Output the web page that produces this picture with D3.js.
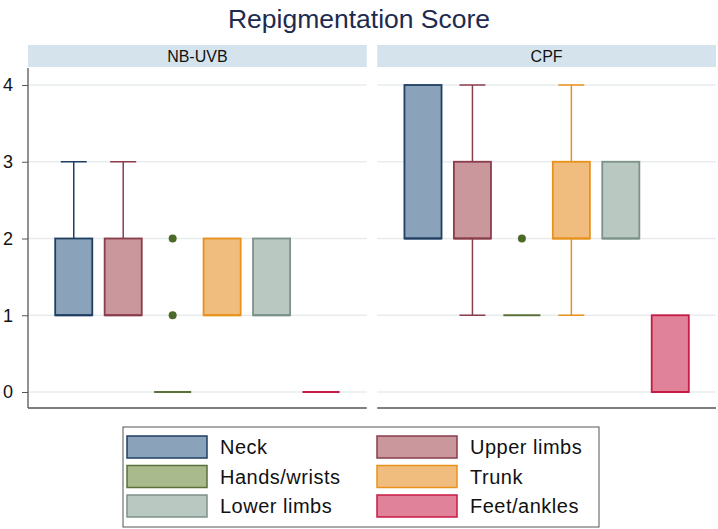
<!DOCTYPE html>
<html>
<head>
<meta charset="utf-8">
<script src="https://cdn.jsdelivr.net/npm/d3@7"></script>
<style>
  body { margin: 0; background: #fff; }
  svg { display: block; font-family: "Liberation Sans", Arial, sans-serif; }
</style>
</head>
<body>
<svg width="718" height="529"></svg>
<script>
// categories and values
var panels = ['NB-UVB', 'CPF'];
var regions = ['Neck', 'Upper limbs', 'Hands/wrists', 'Trunk', 'Lower limbs', 'Feet/ankles'];
var yTicks = [0, 1, 2, 3, 4];

// [min, q1, median, q3, max] per region
var nbuvbStats = [[1, 1, 1, 2, 3], [1, 1, 1, 2, 3], [0, 0, 0, 0, 0], [1, 1, 1, 2, 2], [1, 1, 1, 2, 2], [0, 0, 0, 0, 0]];
var nbuvbOutliers = [[], [], [1, 2], [], [], []];
var cpfStats = [[2, 2, 2, 4, 4], [1, 2, 2, 3, 4], [1, 1, 1, 1, 1], [1, 2, 2, 3, 4], [2, 2, 2, 3, 3], [0, 0, 0, 1, 1]];
var cpfOutliers = [[], [], [2], [], [], []];

var fills   = ['#8ba3ba', '#c9979c', '#a9bb8c', '#f1bd7f', '#b9c9c2', '#e0829a'];
var strokes = ['#1f3f63', '#8b3d4b', '#5b703b', '#e8921c', '#7c918a', '#c81a44'];
var dotColor = '#4b6a28';

var svg = d3.select('svg');

var statsByPanel = [nbuvbStats, cpfStats],
    outliersByPanel = [nbuvbOutliers, cpfOutliers];

var panelX = d3.scaleBand().domain(panels).range([28, 716]).paddingInner(0.03),
    y = d3.scaleLinear().domain([0, 4]).range([392, 85]);

svg.append('text')
   .attr('x', 359).attr('y', 28)
   .attr('text-anchor', 'middle')
   .attr('font-size', 26.5)
   .attr('fill', '#1d2b4f')
   .text('Repigmentation Score');

panels.forEach(function(p, pi) {
  var x0 = panelX(p), w = panelX.bandwidth();
  var g = svg.append('g');

  // strip
  g.append('rect')
   .attr('x', x0).attr('y', 45).attr('width', w).attr('height', 22)
   .attr('fill', '#d5e4ec');
  g.append('text')
   .attr('x', x0 + w / 2).attr('y', 61.5)
   .attr('text-anchor', 'middle')
   .attr('font-size', 16)
   .attr('fill', '#111')
   .text(p);

  // gridlines
  g.selectAll('.grid')
   .data(yTicks)
   .enter().append('line')
     .attr('x1', x0).attr('x2', x0 + w)
     .attr('y1', function(d) { return y(d); })
     .attr('y2', function(d) { return y(d); })
     .attr('stroke', '#e9ecee')
     .attr('stroke-width', 1.5);

  // bottom line
  g.append('line')
   .attr('x1', x0).attr('x2', x0 + w)
   .attr('y1', 408).attr('y2', 408)
   .attr('stroke', '#555').attr('stroke-width', 1.3);

  if (pi === 0) {
    var yAxis = d3.axisLeft(y).tickValues(yTicks).tickFormat(d3.format('d')).tickSize(6).tickPadding(9);
    var ax = svg.append('g')
                .attr('transform', 'translate(' + x0 + ',0)')
                .call(yAxis);
    ax.select('.domain').attr('d', 'M0,68V408').attr('stroke', '#555').attr('stroke-width', 1.3);
    ax.selectAll('.tick line').attr('stroke', '#555');
    ax.selectAll('.tick text')
      .attr('font-size', 18)
      .attr('font-family', '"Liberation Sans", Arial, sans-serif')
      .attr('fill', '#111');
  }

  var x = d3.scaleBand().domain(regions).range([x0, x0 + w]).paddingInner(0.25).paddingOuter(0.55);
  var bw = x.bandwidth(), cap = 13;

  var boxes = g.selectAll('.box')
               .data(statsByPanel[pi].map(function(s, i) { return { r: regions[i], s: s, i: i }; }))
               .enter().append('g');

  boxes.each(function(d) {
    var b = d3.select(this),
        cx = x(d.r) + bw / 2,
        col = strokes[d.i];
    // whiskers
    if (d.s[4] > d.s[3]) {
      b.append('line').attr('x1', cx).attr('x2', cx).attr('y1', y(d.s[3])).attr('y2', y(d.s[4]))
       .attr('stroke', col).attr('stroke-width', 1.5);
      b.append('line').attr('x1', cx - cap).attr('x2', cx + cap).attr('y1', y(d.s[4])).attr('y2', y(d.s[4]))
       .attr('stroke', col).attr('stroke-width', 1.5);
    }
    if (d.s[0] < d.s[1]) {
      b.append('line').attr('x1', cx).attr('x2', cx).attr('y1', y(d.s[1])).attr('y2', y(d.s[0]))
       .attr('stroke', col).attr('stroke-width', 1.5);
      b.append('line').attr('x1', cx - cap).attr('x2', cx + cap).attr('y1', y(d.s[0])).attr('y2', y(d.s[0]))
       .attr('stroke', col).attr('stroke-width', 1.5);
    }
    // box
    if (d.s[3] > d.s[1]) {
      b.append('rect')
       .attr('x', x(d.r)).attr('width', bw)
       .attr('y', y(d.s[3])).attr('height', y(d.s[1]) - y(d.s[3]))
       .attr('fill', fills[d.i]).attr('stroke', col).attr('stroke-width', 1.8);
    }
    // median
    b.append('line').attr('x1', x(d.r)).attr('x2', x(d.r) + bw)
     .attr('y1', y(d.s[2])).attr('y2', y(d.s[2]))
     .attr('stroke', col).attr('stroke-width', 1.8);
  });

  // outliers
  outliersByPanel[pi].forEach(function(list, i) {
    g.selectAll('.out' + i)
     .data(list)
     .enter().append('circle')
       .attr('cx', x(regions[i]) + bw / 2)
       .attr('cy', function(d) { return y(d); })
       .attr('r', 4)
       .attr('fill', dotColor);
  });
});

// legend
var legend = svg.append('g');
legend.append('rect')
      .attr('x', 123).attr('y', 427).attr('width', 476).attr('height', 100)
      .attr('fill', '#fff').attr('stroke', '#555').attr('stroke-width', 1);

var legendCol = d3.scaleOrdinal().domain([0, 1]).range([127, 377]),
    legendRow = d3.scaleLinear().domain([0, 2]).range([447, 506]);

var items = legend.selectAll('.item')
                  .data(regions)
                  .enter().append('g')
                  .attr('transform', function(d, i) {
                    return 'translate(' + legendCol(i % 2) + ',' + legendRow(Math.floor(i / 2)) + ')';
                  });

items.append('rect')
     .attr('x', 0).attr('y', -11).attr('width', 80).attr('height', 22)
     .attr('fill', function(d, i) { return fills[i]; })
     .attr('stroke', function(d, i) { return strokes[i]; })
     .attr('stroke-width', 1.5);

items.append('text')
     .attr('x', 93).attr('y', 7)
     .attr('font-size', 20)
     .attr('letter-spacing', 0.5)
     .attr('fill', '#111')
     .text(function(d) { return d; });
</script>
</body>
</html>
